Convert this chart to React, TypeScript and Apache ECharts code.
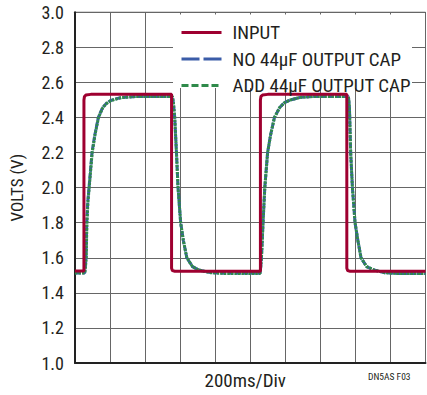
import React, { useEffect, useRef } from "react";
import * as echarts from "echarts";

// time in ms (200 ms / division), value in volts
const inputData: [number, number][] = [
  [0, 1.525], [51, 1.525], [51, 2.5], [54, 2.52], [62, 2.528], [90, 2.532],
  [551, 2.532], [551, 1.54], [556, 1.527], [570, 1.523], [1058, 1.523],
  [1058, 2.5], [1061, 2.52], [1070, 2.528], [1100, 2.532], [1551, 2.532],
  [1551, 1.54], [1556, 1.527], [1570, 1.523], [2000, 1.523],
];

const noCapData: [number, number][] = [
  [0, 1.513], [55, 1.513], [59, 1.55], [63, 1.6], [67, 1.8], [73, 1.92], [80, 2.0],
  [97, 2.2], [113, 2.3], [133, 2.4], [158, 2.457], [180, 2.482], [206, 2.498],
  [263, 2.514], [348, 2.52], [556, 2.52], [562, 2.48], [569, 2.4], [579, 2.2],
  [588, 2.0], [603, 1.8], [618, 1.7], [638, 1.6], [670, 1.55], [707, 1.53],
  [774, 1.516], [850, 1.512], [1056, 1.512], [1060, 1.55], [1064, 1.6],
  [1073, 1.8], [1083, 2.0], [1099, 2.2], [1116, 2.3], [1138, 2.4], [1168, 2.457],
  [1195, 2.485], [1228, 2.5], [1285, 2.515], [1360, 2.52], [1560, 2.52],
  [1566, 2.46], [1573, 2.2], [1583, 2.0], [1598, 1.8], [1614, 1.7], [1632, 1.6],
  [1664, 1.55], [1707, 1.53], [1768, 1.515], [1850, 1.51], [2000, 1.51],
];

const addCapData: [number, number][] = [
  [0, 1.513], [56, 1.513], [60, 1.55], [64, 1.6], [68, 1.8], [74, 1.92], [81, 2.0],
  [98, 2.2], [114, 2.3], [134, 2.4], [159, 2.457], [180, 2.48], [206, 2.497],
  [263, 2.513], [348, 2.52], [556, 2.52], [562, 2.48], [569, 2.4], [579, 2.2],
  [588, 2.0], [603, 1.8], [618, 1.7], [638, 1.6], [670, 1.55], [707, 1.53],
  [774, 1.515], [850, 1.511], [1056, 1.511], [1060, 1.55], [1064, 1.6],
  [1073, 1.8], [1083, 2.0], [1099, 2.2], [1116, 2.3], [1138, 2.4], [1168, 2.457],
  [1195, 2.484], [1228, 2.5], [1285, 2.515], [1360, 2.52], [1560, 2.52],
  [1566, 2.46], [1573, 2.2], [1583, 2.0], [1598, 1.8], [1614, 1.7], [1632, 1.6],
  [1664, 1.55], [1707, 1.53], [1768, 1.515], [1850, 1.51], [2000, 1.51],
];

const seriesNames = ["INPUT", "NO 44µF OUTPUT CAP", "ADD 44µF OUTPUT CAP"];
const xAxisTitle = "200ms/Div";
const yAxisTitle = "VOLTS (V)";
const figureCode = "DN5AS F03";

const FONT = "'Liberation Sans Narrow', 'Roboto Condensed', 'Arial Narrow', 'Liberation Sans', sans-serif";
const TEXT = "#231f20";

export default function App() {
  const ref = useRef<HTMLDivElement>(null);
  useEffect(() => {
    if (!ref.current) return;
    const chart = echarts.init(ref.current, undefined, { renderer: "svg" });
    chart.setOption({
      animation: false,
      backgroundColor: "#fff",
      grid: {
        left: 73.8, right: 1.5, top: 12.3, bottom: 31.5,
        show: true, borderColor: "#333", borderWidth: 1, backgroundColor: "transparent",
      },
      legend: {
        orient: "vertical",
        left: 171, top: 14,
        padding: [9, 3, 8, 9],
        itemWidth: 40, itemHeight: 14, itemGap: 7.5,
        data: [
          { name: seriesNames[0] },
          { name: seriesNames[1], lineStyle: { type: [18, 4] } },
          { name: seriesNames[2], lineStyle: { type: [7, 3] } },
        ],
        itemStyle: { opacity: 0 },
        lineStyle: { width: 3 },
        textStyle: { fontFamily: FONT, fontSize: 19, lineHeight: 14, color: TEXT, padding: [0, 0, 0, 6] },
      },
      xAxis: {
        type: "value", min: 0, max: 2000, interval: 200,
        axisLabel: { show: false }, axisTick: { show: false },
        axisLine: { lineStyle: { color: "#222", width: 2 } },
        splitLine: { lineStyle: { color: "#666", width: 1 } },
        name: xAxisTitle, nameLocation: "middle", nameGap: 8,
        nameTextStyle: { fontFamily: FONT, fontSize: 19, color: TEXT, verticalAlign: "top", padding: [0, 10, 0, 0] },
      },
      yAxis: {
        type: "value", min: 1, max: 3, interval: 0.2,
        axisLabel: { fontFamily: FONT, fontSize: 18, color: TEXT, margin: 11, formatter: (v: number) => v.toFixed(1) },
        axisTick: { show: false },
        axisLine: { show: true, lineStyle: { color: "#222", width: 2 } },
        splitLine: { lineStyle: { color: "#666", width: 1 } },
        name: yAxisTitle, nameLocation: "middle", nameGap: 50, nameRotate: 90,
        nameTextStyle: { fontFamily: FONT, fontSize: 17, color: TEXT },
      },
      graphic: [
        { type: "rect", z: 1, shape: { x: 173, y: 14.5, width: 239, height: 73.5 }, style: { fill: "#fff" } },
        { type: "text", left: 368, top: 371, style: { text: figureCode, fontFamily: FONT, fontSize: 9.5, fill: TEXT } },
      ],
      series: [
        {
          name: seriesNames[1], type: "line", data: noCapData, symbol: "none",
          lineStyle: { color: "#3b5ca8", width: 3, type: [6, 1.4] }, itemStyle: { color: "#3b5ca8" },
        },
        {
          name: seriesNames[2], type: "line", data: addCapData, symbol: "none",
          lineStyle: { color: "#2f8a4a", width: 3, type: [2.4, 1.1] }, itemStyle: { color: "#2f8a4a" },
        },
        {
          name: seriesNames[0], type: "line", data: inputData, symbol: "none",
          lineStyle: { color: "#9e0030", width: 3 }, itemStyle: { color: "#9e0030" },
        },
      ],
    });
    return () => chart.dispose();
  }, []);
  return <div ref={ref} style={{ width: 427, height: 395, position: "absolute", left: 0, top: 0 }} />;
}
